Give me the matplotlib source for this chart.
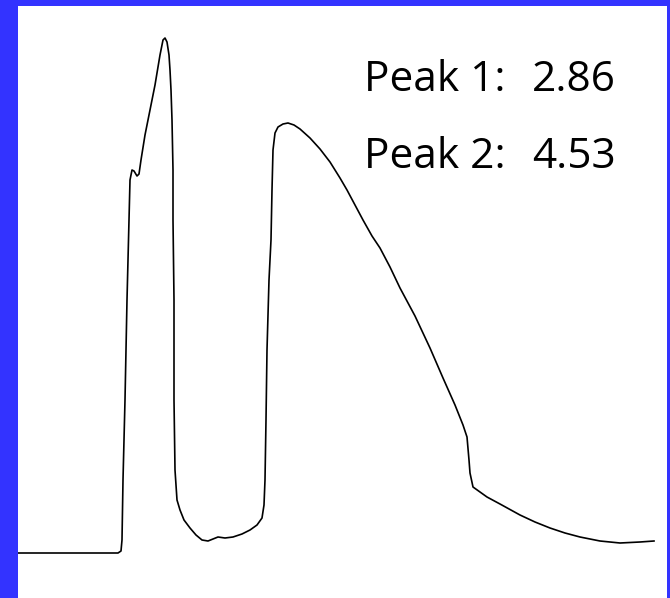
import numpy as np
import matplotlib.pyplot as plt

# trace (time, signal height)
time = [18, 60, 100, 118, 121, 122, 123, 125, 127, 129, 130, 132, 134, 137, 139, 141, 145, 150,
        155, 160, 163, 165, 167, 169, 170, 171, 172, 173, 173, 174, 174, 175, 177, 180, 184, 190,
        196, 202, 208, 213, 218, 225, 233, 242, 250, 257, 262, 264, 265, 266, 267, 269, 271, 272,
        273, 275, 278, 283, 288, 294, 300, 310, 320, 330, 340, 347, 355, 363, 372, 380, 390, 400,
        415, 430, 443, 455, 463, 467, 469, 470, 473, 480, 487, 500, 520, 535, 550, 565, 580, 600,
        620, 640, 654]
ypix = [553, 553, 553, 553, 551, 540, 480, 400, 300, 220, 180, 170, 171, 176, 174, 160, 135, 110,
        85, 55, 40, 38, 42, 55, 70, 90, 120, 170, 220, 300, 400, 470, 500, 510, 520, 528,
        535, 540, 541, 539, 537, 538, 537, 534, 530, 525, 518, 505, 480, 420, 350, 280, 240, 190,
        150, 133, 127, 124, 123, 125, 129, 138, 149, 162, 178, 190, 205, 220, 236, 248, 267, 288,
        316, 348, 378, 405, 425, 437, 460, 473, 487, 492, 497, 504, 515, 522, 528, 533, 537, 541,
        543, 542, 541]
signal = 598 - np.array(ypix)

peak_labels = ['Peak 1:', 'Peak 2:']
peak_values = ['2.86', '4.53']

fig = plt.figure(figsize=(6.70, 5.98), dpi=100, facecolor='#3333FF')
ax = fig.add_axes([18 / 670, 0, (667 - 18) / 670, (598 - 6) / 598])
ax.set_facecolor('white')
ax.plot(time, signal, color='black', lw=1.2)

for i, (lab, val) in enumerate(zip(peak_labels, peak_values)):
    yb = 507 - i * 77
    ax.text(364, yb, lab, fontsize=30.5, family='Open Sans', va='baseline', ha='left')
    ax.text(532, yb, val, fontsize=30.5, family='Open Sans', va='baseline', ha='left')

ax.set_xlim(18, 667)
ax.set_ylim(0, 592)
ax.set_xticks([])
ax.set_yticks([])
for s in ax.spines.values():
    s.set_visible(False)

fig.savefig('out.png', dpi=100, facecolor=fig.get_facecolor())
